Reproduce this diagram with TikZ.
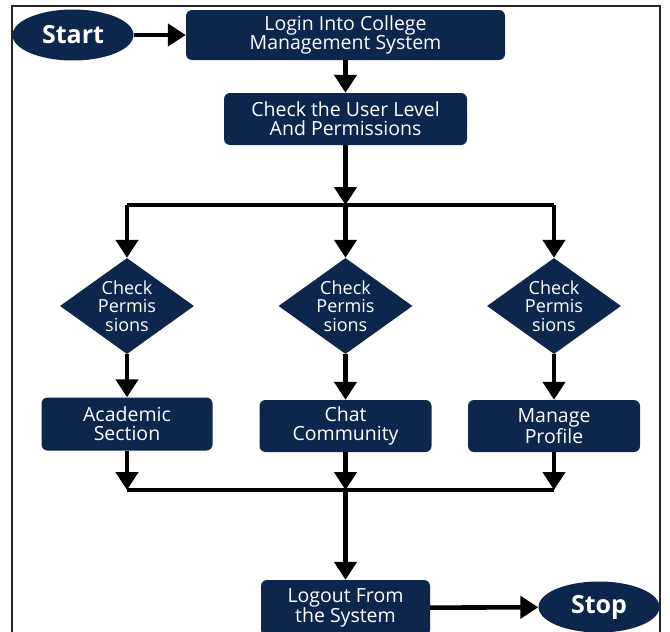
\documentclass[tikz,border=0pt]{standalone}
\usepackage{fontspec}
\setmainfont{Open Sans}
\usetikzlibrary{arrows.meta, positioning, shapes.geometric}
\definecolor{navy}{RGB}{12,38,76}

\begin{document}
\begin{tikzpicture}[x=1pt, y=-1pt, >={Triangle[width=22pt,length=18pt]},
    flow/.style={->, line width=4.6pt},
    bar/.style={line width=4.6pt},
    box/.style={fill=navy, rounded corners=6pt, align=center, text=white, inner sep=0pt,
                font=\fontsize{19.5}{19}\selectfont},
    dec/.style={diamond, fill=navy, minimum width=134pt, minimum height=96pt, inner sep=0pt},
    dlab/.style={text=white, align=center, inner sep=0pt, font=\fontsize{18}{18.5}\selectfont},
    term/.style={ellipse, fill=navy, text=white, minimum width=121pt, minimum height=51pt,
                 inner sep=0pt, font=\bfseries\fontsize{25}{25}\selectfont}]
    \useasboundingbox (0,0) rectangle (670,632);
    \draw[line width=1.6pt, black!85] (12,6) rectangle (660,650);

    \node[term] (start) at (73,35) {Start};
    \node[box, minimum width=319pt, minimum height=50pt] (login) at (345.5,35) {Login Into College\\Management System};
    \node[box, minimum width=243pt, minimum height=52pt] (check) at (345.5,119) {Check the User Level\\And Permissions};
    \coordinate (br) at (345.5,205);

    \node[dec, label={[dlab]center:Check\\Permis\\sions}] (d1) at (127,306) {};
    \node[dec, label={[dlab]center:Check\\Permis\\sions}] (d2) at (345.5,306) {};
    \node[dec, label={[dlab]center:Check\\Permis\\sions}] (d3) at (554,306) {};

    \node[box, minimum width=171pt, minimum height=53pt] (acad) at (127,424) {Academic\\Section};
    \node[box, minimum width=172pt, minimum height=52pt] (chat) at (345.5,426) {Chat\\Community};
    \node[box, minimum width=172pt, minimum height=52pt] (prof) at (554,426) {Manage\\Profile};
    \coordinate (mg) at (345.5,490);

    \node[box, minimum width=169pt, minimum height=56pt] (logout) at (345.5,608) {Logout From\\the System};
    \node[term] (stop) at (599,607) {Stop};

    \draw[flow] (start) -- (login);
    \draw[flow] (login) -- (check);
    \draw[flow] (check) -- (br);
    \draw[bar] (d1 |- br) -- (d3 |- br);
    \foreach \d/\b in {d1/acad,d2/chat,d3/prof} {
      \draw[flow] (\d |- br) -- (\d);
      \draw[flow] (\d) -- (\b);
      \draw[flow] (\b) -- (\b |- mg);
    }
    \draw[bar] (acad |- mg) -- (prof |- mg);
    \draw[flow] (mg) -- (logout);
    \draw[flow] (logout) -- (stop);
\end{tikzpicture}
\end{document}
